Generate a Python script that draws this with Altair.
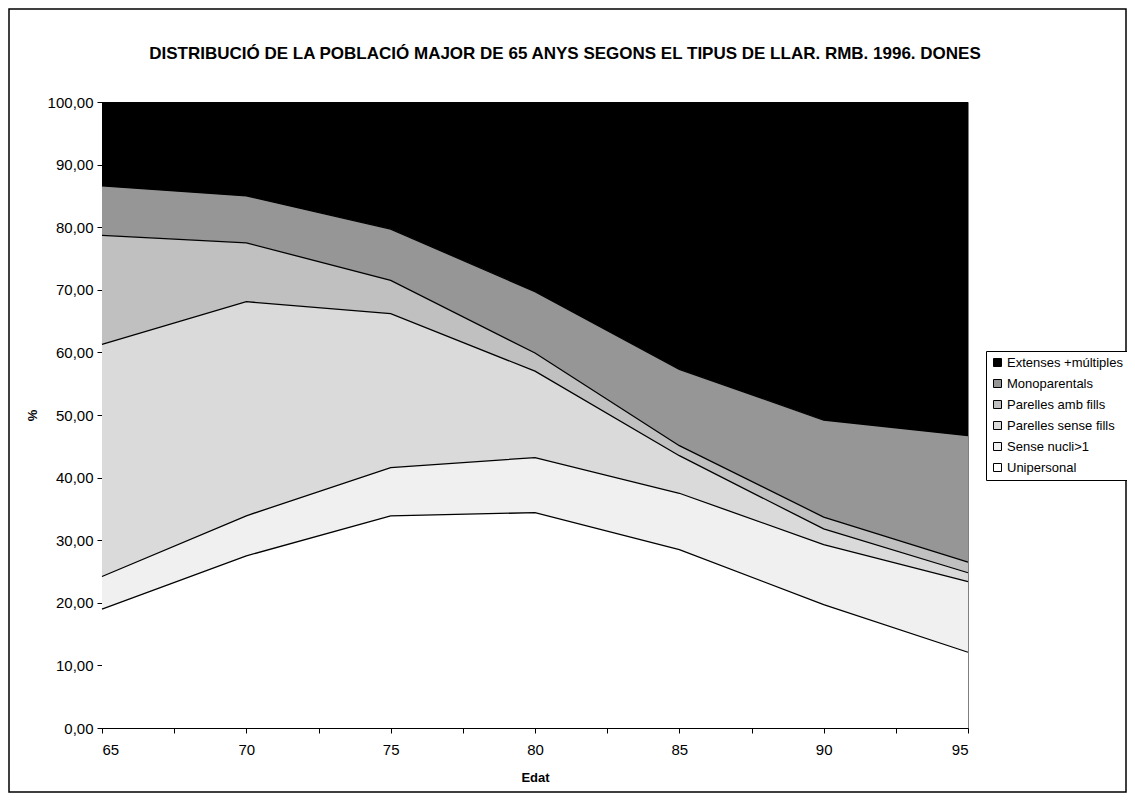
import altair as alt
import pandas as pd

edat = [65, 70, 75, 80, 85, 90, 95]

unipersonal = [19.0, 27.5, 33.9, 34.4, 28.5, 19.7, 12.1]
sense_nucli = [5.2, 6.4, 7.7, 8.8, 9.0, 9.6, 11.3]
parelles_sense = [37.1, 34.2, 24.6, 13.8, 6.0, 2.5, 1.4]
parelles_amb = [17.4, 9.4, 5.3, 2.9, 1.6, 1.9, 1.7]
monoparentals = [7.9, 7.5, 8.2, 9.8, 12.2, 15.5, 20.2]
extenses = [13.4, 15.0, 20.3, 30.3, 42.7, 50.8, 53.3]

series_names = ["Unipersonal", "Sense nucli>1", "Parelles sense fills",
                "Parelles amb fills", "Monoparentals", "Extenses +múltiples"]
series_values = [unipersonal, sense_nucli, parelles_sense, parelles_amb,
                 monoparentals, extenses]
series_colors = ["#ffffff", "#f0f0f0", "#dadada", "#c0c0c0", "#969696", "#000000"]

legend_order = list(reversed(series_names))
legend_colors = list(reversed(series_colors))

x_ticks = [65, 67.5, 70, 72.5, 75, 77.5, 80, 82.5, 85, 87.5, 90, 92.5, 95]
y_ticks = [0, 10, 20, 30, 40, 50, 60, 70, 80, 90, 100]

title_text = "DISTRIBUCIÓ DE LA POBLACIÓ MAJOR DE 65 ANYS SEGONS EL TIPUS DE LLAR. RMB. 1996. DONES"

rows = []
for i, (name, vals) in enumerate(zip(series_names, series_values)):
    for e, v in zip(edat, vals):
        rows.append({"edat": e, "serie": name, "idx": i, "valor": v})
df = pd.DataFrame(rows)

W, H = 866, 626
PL, PT, PR, PB = 94, 94, 159, 65

x_enc = alt.X(
    "edat:Q",
    scale=alt.Scale(domain=[65, 95], nice=False, zero=False),
    axis=alt.Axis(
        values=x_ticks,
        labelExpr="datum.value % 5 == 0 ? datum.value : ''",
        title="Edat",
        titleFontWeight="bold",
        titleFontSize=13,
        titlePadding=14,
        labelFontSize=15,
        labelPadding=9,
        tickSize=5,
        tickColor="black",
        domainColor="black",
        labelColor="black",
        grid=False,
    ),
)

base = alt.Chart(df).transform_stack(
    stack="valor",
    as_=["y0", "y1"],
    groupby=["edat"],
    sort=[alt.SortField("idx", order="ascending")],
)

areas = base.mark_area(opacity=1).encode(
    x=x_enc,
    y=alt.Y(
        "y1:Q",
        scale=alt.Scale(domain=[0, 100], nice=False),
        axis=alt.Axis(
            values=y_ticks,
            labelExpr="replace(format(datum.value, '.2f'), '.', ',')",
            title="%",
            titleFontWeight="bold",
            titleFontSize=13,
            titlePadding=8,
            labelFontSize=15,
            labelPadding=4,
            tickSize=5,
            tickColor="black",
            domainColor="black",
            labelColor="black",
            grid=False,
        ),
    ),
    y2="y0:Q",
    color=alt.Color(
        "serie:N",
        scale=alt.Scale(domain=legend_order, range=legend_colors),
        legend=alt.Legend(
            title=None,
            orient="none",
            legendX=884,
            legendY=249,
            symbolType="square",
            symbolSize=64,
            symbolStrokeColor="black",
            symbolStrokeWidth=1,
            symbolOpacity=1,
            labelFontSize=13,
            labelColor="black",
            labelOffset=3,
            rowPadding=7,
            padding=5,
            strokeColor="black",
            fillColor="white",
        ),
    ),
    order=alt.Order("idx:Q", sort="ascending"),
)

lines = base.transform_filter("datum.idx < 5").mark_line(
    color="black", strokeWidth=1.3
).encode(
    x=alt.X("edat:Q"),
    y=alt.Y("y1:Q"),
    detail="serie:N",
)

one = pd.DataFrame({"a": [0]})

frame = alt.Chart(one).mark_rect(
    filled=False, stroke="black", strokeWidth=1.5
).encode(
    x=alt.value(-PL + 1),
    x2=alt.value(W + PR - 1),
    y=alt.value(-PT + 1),
    y2=alt.value(H + PB - 1),
)

title = alt.Chart(one).mark_text(
    fontSize=17, fontWeight="bold", color="black", align="center", baseline="middle"
).encode(
    x=alt.value(W / 2 + 30),
    y=alt.value(-48),
    text=alt.value(title_text),
)

chart = alt.layer(areas, lines, frame, title).properties(
    width=W,
    height=H,
    autosize=alt.AutoSizeParams(type="none"),
    padding={"left": PL, "top": PT, "right": PR, "bottom": PB},
).configure(
    font="Liberation Sans",
).configure_view(
    stroke="#808080", strokeWidth=1
).configure_axis(
    labelFont="Liberation Sans", titleFont="Liberation Sans"
)

chart.save("out.html", embed_options={"renderer": "svg", "actions": False})
